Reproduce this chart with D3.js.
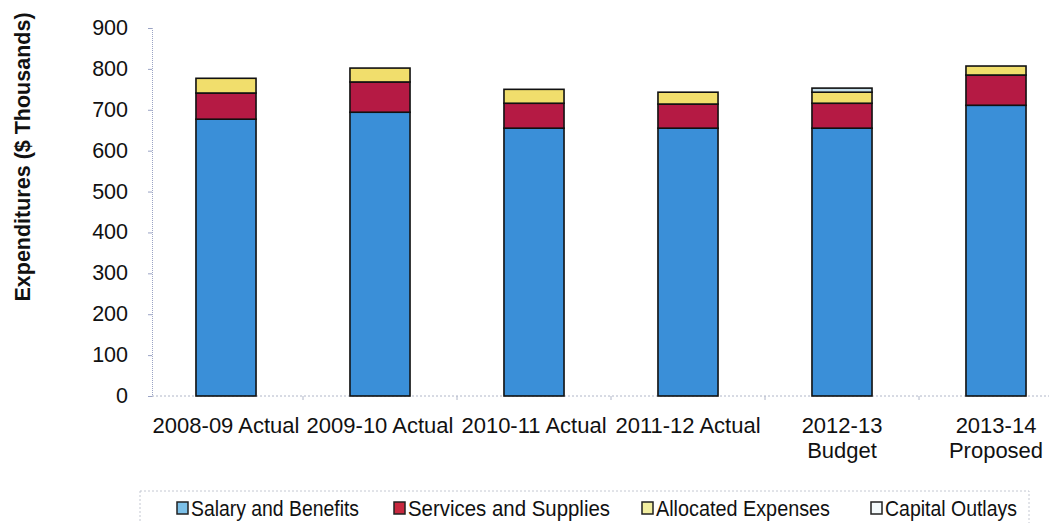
<!DOCTYPE html>
<html>
<head>
<meta charset="utf-8">
<script src="https://cdn.jsdelivr.net/npm/d3@7"></script>
<style>
body { margin: 0; background: #fff; }
text { font-family: "Liberation Sans", Arial, sans-serif; fill: #111; }
</style>
</head>
<body>
<svg width="1049" height="523"></svg>
<script>
var years = ["2008-09 Actual", "2009-10 Actual", "2010-11 Actual", "2011-12 Actual", "2012-13\nBudget", "2013-14\nProposed"];
var series = ["Salary and Benefits", "Services and Supplies", "Allocated Expenses", "Capital Outlays"];
var salary = [677, 694, 655, 655, 655, 711];
var services = [64, 74, 61, 59, 61, 74];
var allocated = [36, 34, 34, 29, 27, 22];
var capital = [0, 0, 0, 0, 10, 0];
var yTicks = [0, 100, 200, 300, 400, 500, 600, 700, 800, 900];

var colors = ["#3a8fd8", "#b51a44", "#f1de6c", "#c6dfea"];
var legendColors = ["#7cc0e8", "#c8283f", "#f2eea0", "#f4fafc"];

var svg = d3.select("svg");

var table = years.map(function(y, i) {
  return { year: y, "Salary and Benefits": salary[i], "Services and Supplies": services[i],
           "Allocated Expenses": allocated[i], "Capital Outlays": capital[i] };
});
var stacked = d3.stack().keys(series)(table);

var x = d3.scaleBand().domain(years).range([149, 1073]).paddingInner(0.61).paddingOuter(0.305);
var y = d3.scaleLinear().domain([0, 900]).range([396, 28]);

// y axis
var ya = svg.append("g").attr("transform", "translate(152,0)")
  .call(d3.axisLeft(y).tickValues(yTicks).tickSize(4).tickPadding(20));
ya.select(".domain").attr("stroke", "#9aa3c4").attr("stroke-dasharray", "1,1");
ya.selectAll(".tick line").attr("stroke", "#9aa3c4");
ya.selectAll(".tick text").style("font-size", "21.5px").attr("fill", "#111").attr("dy", "0.3em");

// x axis line
svg.append("line").attr("x1", 152).attr("x2", 1049).attr("y1", 396).attr("y2", 396)
  .attr("stroke", "#b0b6c8").attr("stroke-dasharray", "2,2");
years.slice(1).forEach(function(d) {
  var bx = x(d) - x.step() * x.paddingInner() / 2;
  svg.append("line").attr("x1", bx).attr("x2", bx).attr("y1", 396).attr("y2", 400)
    .attr("stroke", "#b0b6c8");
});

// bars
stacked.forEach(function(s, k) {
  svg.append("g").selectAll("rect").data(s.filter(function(d) { return d[1] - d[0] > 0; }))
    .enter().append("rect")
    .attr("x", function(d) { return x(d.data.year); })
    .attr("width", x.bandwidth())
    .attr("y", function(d) { return y(d[1]); })
    .attr("height", function(d) { return y(d[0]) - y(d[1]); })
    .attr("fill", colors[k])
    .attr("stroke", "#111")
    .attr("stroke-width", 1.6);
});

// x labels
years.forEach(function(d) {
  var t = svg.append("text").attr("text-anchor", "middle")
    .attr("x", x(d) + x.bandwidth() / 2).attr("y", 433).style("font-size", "22px");
  d.split("\n").forEach(function(line, i) {
    t.append("tspan").attr("x", x(d) + x.bandwidth() / 2).attr("dy", i ? 25 : 0).text(line);
  });
});

// y title
svg.append("text").attr("transform", "translate(30,157) rotate(-90)")
  .attr("text-anchor", "middle").style("font-size", "21.5px").style("font-weight", "bold")
  .text("Expenditures ($ Thousands)");

// legend
svg.append("rect").attr("x", 140).attr("y", 491).attr("width", 889).attr("height", 60)
  .attr("fill", "none").attr("stroke", "#c4c8d2").attr("stroke-dasharray", "2,2");
var legX = [177, 394, 642, 871];
var legW = [168, 202, 174, 132];
series.forEach(function(s, i) {
  svg.append("rect").attr("x", legX[i]).attr("y", 502).attr("width", 11).attr("height", 12)
    .attr("fill", legendColors[i]).attr("stroke", "#222").attr("stroke-width", 1.5);
  svg.append("text").attr("x", legX[i] + 14).attr("y", 516).style("font-size", "22px")
    .attr("textLength", legW[i]).attr("lengthAdjust", "spacingAndGlyphs").text(s);
});
</script>
</body>
</html>
